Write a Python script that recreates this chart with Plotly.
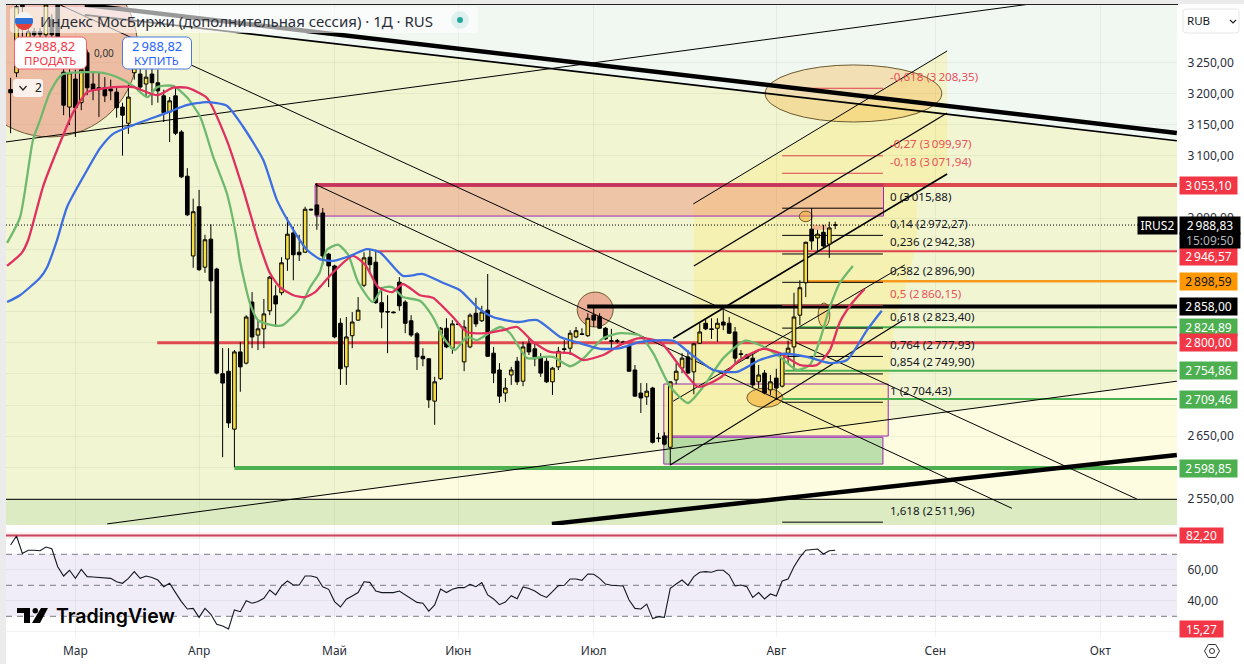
import math
import plotly.graph_objects as go

# Values below; READ_OFF lifts them onto the calibrated price scale.
READ_OFF = 2.2

# ---------- price data (bar index 0..140) ----------
opens = [3204,3231,3345,3284,3297,3297,3292,3316,3345,3232,
 3176,3221,3183,3263,3213,3207,3207,3205,3200,3176,
 3150,3231,3229,3213,3229,3215,3194,3168,3194,3136,
 3065,2937,3016,2919,2964,2916,2748,2752,2659,2783,
 2765,2863,2810,2820,2849,2873,2878,2932,2974,2943,
 2943,3012,3019,3006,2940,2921,2829,2759,2809,2834,
 2890,2935,2927,2862,2848,2847,2895,2863,2833,2812,
 2776,2772,2704,2740,2821,2789,2828,2767,2791,2845,
 2833,2850,2781,2754,2717,2746,2768,2736,2796,2788,
 2773,2768,2735,2759,2788,2789,2807,2812,2809,2842,
 2840,2821,2801,2801,2799,2793,2754,2717,2711,2725,
 2645,2648,2630,2738,2757,2775,2751,2797,2829,2820,
 2821,2831,2829,2815,2780,2778,2773,2735,2749,2722,
 2741,2728,2781,2791,2842,2894,2980,2966,2975,2956,2986.6]
highs = [3223,3340,3350,3303,3303,3303,3345,3325,3350,3240,
 3239,3236,3252,3268,3231,3232,3224,3220,3208,3183,
 3212,3252,3239,3236,3239,3236,3204,3192,3207,3139,
 3078,3029,3043,2971,2988,2918,2789,2789,2786,2799,
 2842,2879,2834,2868,2905,2890,2935,2999,2984,2971,
 3016,3013,3054,3014,2942,2923,2837,2839,2847,2871,
 2943,2947,2947,2887,2874,2848,2903,2866,2842,2815,
 2789,2773,2743,2823,2837,2834,2829,2834,2845,2870,
 2857,2908,2791,2765,2741,2759,2775,2799,2805,2797,
 2781,2773,2759,2791,2802,2818,2823,2821,2845,2855,
 2845,2823,2820,2804,2801,2794,2762,2733,2733,2727,
 2653,2654,2736,2765,2781,2786,2797,2829,2837,2837,
 2837,2850,2839,2823,2786,2780,2781,2762,2754,2746,
 2756,2781,2801,2878,2898,2960,3014,2979,2987,2992,2992]
lows = [3134,3224,3276,3276,3287,3287,3285,3285,3280,3163,
 3147,3128,3171,3195,3187,3160,3184,3187,3159,3098,
 3133,3220,3204,3192,3179,3183,3152,3120,3131,3062,
 3001,2918,2913,2910,2845,2747,2614,2661,2598,2719,
 2763,2789,2786,2789,2842,2823,2874,2913,2898,2929,
 2942,3010,2979,2923,2887,2805,2730,2730,2789,2833,
 2887,2908,2860,2821,2781,2845,2849,2813,2807,2754,
 2760,2693,2666,2738,2789,2780,2826,2752,2789,2823,
 2831,2775,2733,2701,2703,2730,2730,2728,2778,2760,
 2743,2733,2714,2754,2780,2778,2805,2810,2807,2823,
 2820,2802,2786,2797,2797,2751,2711,2685,2698,2636,
 2638,2633,2601,2731,2749,2748,2715,2796,2818,2804,
 2799,2818,2812,2765,2773,2772,2725,2725,2715,2714,
 2706,2726,2765,2754,2826,2871,2947,2943,2950,2934,2980]
closes = [3199,3337,3337,3297,3292,3293,3340,3292,3289,3179,
 3231,3175,3236,3207,3204,3204,3194,3202,3175,3163,
 3192,3240,3208,3224,3215,3202,3167,3186,3134,3064,
 3003,3008,2915,2963,2897,2749,2733,2669,2783,2759,
 2839,2807,2820,2844,2903,2860,2926,2972,2939,2939,
 3012,3011,3003,2937,2921,2807,2756,2807,2831,2850,
 2934,2923,2862,2847,2847,2846,2857,2829,2810,2775,
 2772,2706,2735,2821,2791,2828,2827,2823,2842,2828,
 2847,2776,2749,2712,2725,2754,2735,2791,2783,2772,
 2749,2735,2757,2784,2787,2813,2817,2811,2837,2834,
 2821,2804,2800,2800,2798,2752,2712,2709,2720,2638,
 2644,2635,2735,2752,2773,2749,2796,2815,2820,2819,
 2829,2826,2813,2773,2779,2773,2730,2746,2717,2735,
 2725,2780,2789,2839,2886,2959,2961,2972,2953,2982,2986.63]
bar_index = list(range(len(opens)))

# ---------- moving averages ----------
green_idx = [-0.6,1.6,3.8,5,6.7,8.7,13,15.7,18.1,20.8,23.2,24.9,27.6,29.9,32.2,34.4,36.7,38.4,38.9,40.6,42,43.5,45.2,46.2,47.8,49.1,50.8,52.5,53.7,55.6,57.3,59,61.5,63.2,64.8,66.6,69.5,71.7,73.4,75.4,77.5,79.2,83.1,84.8,87.7,90.4,92.1,95,97.2,100.6,103.5,106.9,109.1,112,115,117.6,121,124.7,127.2,130.6,133.5,135.7,137.4,139.1,140.8,143]
green_val = [2958,2999,3123,3155,3200,3228,3232,3231,3224,3210,3192,3208,3210,3192,3160,3096,3038,2963,2931,2862,2834,2828,2825,2826,2839,2853,2886,2911,2947,2955,2939,2895,2863,2886,2887,2871,2865,2839,2807,2786,2807,2802,2823,2813,2773,2775,2775,2760,2772,2805,2813,2809,2781,2727,2701,2727,2773,2801,2794,2775,2754,2762,2802,2855,2894,2921]
red_idx = [-0.6,1.9,3,5.5,7.9,10.6,13,15.2,17.4,20.8,24.9,27.6,29.9,33.3,36.7,39.5,42,44,45.7,48,50,51.7,52.5,54.7,58.1,60.2,62.4,64.8,66.6,69.5,71.7,75.1,77.5,80.9,83.6,86,88.7,91.6,95,97.2,100.6,103.5,106.9,110.3,113.7,116.7,120.4,123.8,127.7,130.6,134,136.9,139.1,140.8,143,145]
red_val = [2921,2942,2963,3048,3107,3167,3200,3205,3208,3208,3195,3207,3207,3191,3123,3043,2963,2910,2887,2874,2871,2879,2887,2910,2937,2923,2887,2879,2892,2874,2870,2839,2815,2813,2818,2823,2799,2783,2781,2770,2778,2794,2805,2799,2759,2727,2741,2770,2788,2781,2762,2762,2786,2831,2863,2884]
blue_idx = [-0.6,1.6,5,6.2,7.9,9.6,13,15.2,17.4,20.8,26.6,29.9,33.3,36.7,39.5,42.9,45.2,48,50.3,52.5,54.7,57.6,60.5,62.7,66.6,70,73.4,76.3,79.2,81.9,86,89.4,93.3,96.7,100.1,103.5,106.9,112.5,115.3,119.3,123.3,127.2,131.1,135.2,139.1,142,145.4,147.9]
blue_val = [2863,2874,2902,2919,2963,3016,3075,3110,3133,3147,3167,3179,3184,3178,3144,3091,3027,2979,2947,2932,2929,2937,2948,2943,2905,2908,2894,2882,2855,2839,2831,2834,2807,2797,2788,2789,2799,2801,2781,2754,2751,2770,2780,2775,2765,2770,2818,2849]

# ---------- RSI, one value per bar ----------
rsi_val = [76,81.8,70.6,72.6,72.6,72.3,74.7,73.6,62,56,
 59.7,54.5,60.3,55.6,55.4,55.1,54.5,54.5,52.3,51.3,
 54.5,58.8,54.5,56,55.1,53.4,49.1,51.3,45.3,39.5,
 34.7,35.1,29.3,35.1,31.3,24.8,23.8,21.8,34.1,33,
 40.1,38.4,39.5,41.6,47,43.8,49.6,52.8,50.2,50.2,
 56,56,55.1,49.1,47.4,39.5,36,41,43.1,45.3,
 52.3,51.9,46.3,45.3,45.3,45.3,46.3,43.8,41.6,39,
 38.4,33.4,37.3,47.6,45.3,47.4,48.5,48.5,50.6,49.1,
 51.7,43.8,41.2,37.5,39.2,43.3,41.4,48.9,48,46.3,
 43.8,42.2,45.9,49.8,50,54.1,54.1,53.2,57.3,57.1,
 54.5,50.8,50,50,49.6,40.5,35.1,34.7,37.9,28.5,
 29.8,29.3,48,50.8,53.4,50,55.6,58.4,58.8,58.4,
 59.7,59.7,56.6,49.6,50.2,49.1,42.2,45.3,41.2,44.4,
 43.1,52.8,54.1,62,68,72.6,72.8,73.4,70.2,72.3,72.6]

# ---------- axes ticks (labels hidden by level badges are left empty) ----------
month_ticks = [11,32,55,76,99,130,157,185]
month_labels = ["Мар","Апр","Май","Июн","Июл","Авг","Сен","Окт"]
price_ticks = [3250,3200,3150,3100,3050,3000,2950,2900,2850,2800,2750,2700,2650,2600,2550]
price_labels = ["3\u2009250,00","3\u2009200,00","3\u2009150,00","3\u2009100,00","","3\u2009000,00","","","","","","","2\u2009650,00","","2\u2009550,00"]
rsi_ticks = [80,60,40,20]
rsi_labels = ["","60,00","40,00",""]

# ---------- horizontal levels ----------
level_price = [3053.10,2946.57,2898.59,2858.00,2824.89,2800.00,2754.86,2709.46,2598.85]
level_start = [51.7,62.2,135.2,97.9,134,24.9,131.5,131,38]
level_color = ["#dc4a50","#e0404e","#f59a1e","#000000","#4caf50","#e04850","#4caf50","#4caf50","#4caf50"]
level_width = [4,2,2.5,4,2,3,2,2,4]
level_badge = ["3\u2009053,10","2\u2009946,57","2\u2009898,59","2\u2009858,00","2\u2009824,89","2\u2009800,00","2\u2009754,86","2\u2009709,46","2\u2009598,85"]
badge_bg = ["#f23645","#f23645","#ff9800","#000000","#4caf50","#f23645","#4caf50","#4caf50","#4caf50"]
badge_fg = ["#ffffff","#ffffff","#131722","#ffffff","#ffffff","#ffffff","#ffffff","#ffffff","#ffffff"]
badge_shift = [0,-5,0,0,0,0,0,0,0]

# ---------- fibonacci ----------
fib_price = [3208.35,3099.97,3071.94,3015.88,2972.27,2942.38,2896.90,2860.15,2823.40,2777.93,2749.90,2704.43,2511.96]
fib_text = ["-0,618 (3\u2009208,35)","-0,27 (3\u2009099,97)","-0,18 (3\u2009071,94)","0 (3\u2009015,88)","0,14 (2\u2009972,27)","0,236 (2\u2009942,38)","0,382 (2\u2009896,90)","0,5 (2\u2009860,15)","0,618 (2\u2009823,40)","0,764 (2\u2009777,93)","0,854 (2\u2009749,90)","1 (2\u2009704,43)","1,618 (2\u2009511,96)"]
fib_color = ["#e8505a","#e8505a","#e8505a","#131722","#131722","#131722","#131722","#e8505a","#131722","#131722","#131722","#131722","#131722"]
fib_from, fib_to, fib_label_at = 131, 148.1, 148.95

# ---------- trend lines: x0, p0, x1, p1, width ----------
trend_x0 = [12.6,12.6,-0.8,8.4,51.7,115.9,116,112.5,112.5,112,16.4,91.9]
trend_p0 = [3340,3324,3120,3340,3052,3020.5,2921,2805,2704,2601.5,2507,2507]
trend_x1 = [198,198,173.6,191.2,170,159,159,159,151.8,151.5,198,198]
trend_p1 = [3134.5,3122,3342,2547,2532,3266,3166.6,3068.6,2922.6,2834,2736,2617.5]
trend_w = [4.5,1.6,1,1,1,1,1.2,1.6,1,1.2,1,4.5]

# ---------- ellipses: x0, x1, p0, p1, fill ----------
ell_x0 = [-8.25,96.2,133.9,128.1,125,137.1]
ell_x1 = [21.6,102.3,136.1,158.1,131.1,139.1]
ell_p0 = [3128,2823,2992,3152,2694,2823]
ell_p1 = [3411,2879,3009,3243.6,2725,2861.6]
ell_fill = ["rgba(226,92,80,0.36)","rgba(226,92,80,0.45)","rgba(245,166,35,0.45)","rgba(245,166,35,0.30)","rgba(245,166,35,0.55)","rgba(245,166,35,0.30)"]

# ---------- pixel helpers for page furniture only ----------
W, H = 1244, 664
def px(x): return x / W
def py(y): return 1 - y / H

shapes, ann = [], []
R = READ_OFF

def poly(xs, ys, fill, layer="below", line=None):
    d = "M" + " L".join(f"{x},{y + R}" for x, y in zip(xs, ys)) + " Z"
    shapes.append(dict(type="path", xref="x", yref="y", path=d, fillcolor=fill,
                       line=dict(width=0) if line is None else line, layer=layer))

def rect(x0, x1, p0, p1, fill, border=None, layer="between", xr="x", yr="y"):
    shapes.append(dict(type="rect", xref=xr, yref=yr, x0=x0, x1=x1, y0=p0, y1=p1, fillcolor=fill,
                       line=dict(color=border, width=1) if border else dict(width=0), layer=layer))

def seg(x0, p0, x1, p1, color, width, dash=None, layer="between", xr="x", yr="y"):
    shapes.append(dict(type="line", xref=xr, yref=yr, x0=x0, y0=p0, x1=x1, y1=p1,
                       line=dict(color=color, width=width, dash=dash or "solid"), layer=layer))

X_L, X_R = -0.781, 198.03
Y_MIN, Y_MAX = 2507.4, 3342.0

# background zones
rect(X_L, X_R, Y_MIN, Y_MAX, "#f2f5d2", layer="below")
poly([X_L, 12.6, X_R, X_R, X_L], [3340, 3324, 3122, 3340, 3340], "#f1f8f2")
poly([48.1, X_R, X_R], [2547, 2736, 2547], "#fdfbe0")
rect(X_L, X_R, Y_MIN, 2548.6, "#dcebc1", layer="below")
poly([116,159,159,153.9,153.9,150,149,116], [3020,3266,3069,3040,2960,2820,2731,2731], "rgba(255,232,90,0.26)")

# zones with borders
rect(51.7, 148.2, 3001+R, 3053.1, "rgba(236,130,110,0.42)", "#9c27b0")
rect(110.9, 149, 2648+R, 2731.5+R, "rgba(255,232,90,0.30)", "#9c27b0")
rect(110.9, 148.1, 2603+R, 2646+R, "rgba(76,175,80,0.36)", "#9c27b0")
rect(136.2, 138.6, 2979+R, 2987+R, "rgba(236,130,110,0.5)")

# ellipses
for a, b, c, d, f in zip(ell_x0, ell_x1, ell_p0, ell_p1, ell_fill):
    shapes.append(dict(type="circle", xref="x", yref="y", x0=a, x1=b, y0=c+R, y1=d+R, fillcolor=f,
                       line=dict(color="#6b5a30", width=1), layer="between"))

# levels
for p, s, c, w_ in zip(level_price, level_start, level_color, level_width):
    seg(s, p, X_R, p, c, w_)
seg(51.7, 3053.1, 148.2, 3053.1, "#c2335f", 3)
seg(X_L, 2548.6, X_R, 2548.6, "#000000", 1)
seg(X_L, 2988.83, 191.6, 2988.83, "#000000", 1, "1px,2px")

# fibonacci segments & labels
for p, t, c in zip(fib_price, fib_text, fib_color):
    seg(fib_from, p, fib_to, p, "#e0404e" if c != "#131722" else "#000000", 1)
    ann.append(dict(x=fib_label_at, y=p, xref="x", yref="y", text=t, showarrow=False, xanchor="left",
                    yanchor="middle", yshift=12, font=dict(size=11.6, color=c)))

# trend lines
for a, b, c, d, w_ in zip(trend_x0, trend_p0, trend_x1, trend_p1, trend_w):
    seg(a, b+R, c, d+R, "#000000", w_)

# RSI furniture
rect(X_L, X_R, 30, 70, "rgba(126,87,194,0.11)", layer="below", xr="x2", yr="y2")
rect(X_L, X_R, 80.5, 84, "rgba(242,54,69,0.10)", layer="below", xr="x2", yr="y2")
for v in (70, 50, 30):
    seg(X_L, v, X_R, v, "#787b86", 1, "6px,5px", xr="x2", yr="y2")
seg(X_L, 82.2, X_R, 82.2, "#c8455f", 2, xr="x2", yr="y2")

# ---------- page furniture in paper coords ----------
def ppath(d, fill=None, line=None, width=1):
    shapes.append(dict(type="path", xref="paper", yref="paper", path=d, fillcolor=fill or "rgba(0,0,0,0)",
                       line=dict(color=line or "rgba(0,0,0,0)", width=width), layer="above"))

def prect(x0, x1, y0, y1, fill, line=None, r=0, width=1):
    if r == 0:
        d = f"M{px(x0)},{py(y0)} L{px(x1)},{py(y0)} L{px(x1)},{py(y1)} L{px(x0)},{py(y1)} Z"
    else:
        pts = []
        for cx, cy, a0 in [(x1-r, y0+r, -90), (x1-r, y1-r, 0), (x0+r, y1-r, 90), (x0+r, y0+r, 180)]:
            for k in range(5):
                a = math.radians(a0 + k * 22.5)
                pts.append((cx + r*math.cos(a), cy + r*math.sin(a)))
        d = "M" + " L".join(f"{px(a)},{py(b)}" for a, b in pts) + " Z"
    ppath(d, fill, line, width)

def txt(x, y, s, size=12, color="#131722", anchor="left", family=None, weight=None):
    f = dict(size=size, color=color)
    if family: f["family"] = family
    if weight: f["weight"] = weight
    ann.append(dict(x=px(x), y=py(y), xref="paper", yref="paper", text=s, showarrow=False,
                    xanchor=anchor, yanchor="middle", font=f))

# strips
prect(0, 6, 0, 664, "#ebebeb")
prect(0, 1244, 0, 4, "#ebebeb")
prect(6, 1178, 4, 5, "#222222")

# title
prect(10, 478, 7, 33, "rgba(255,255,255,0.6)", r=4)
txt(38, 21, "Индекс МосБиржи (дополнительная сессия) · 1Д · RUS", 15, "#2a2e39")
def flag_band(cy_top, cy_bot, color):
    cx, cy, r = 24, 21, 9
    pts = []
    for k in range(41):
        a = math.radians(k * 9)
        x, y = cx + r*math.cos(a), cy + r*math.sin(a)
        pts.append((x, min(max(y, cy_top), cy_bot)))
    d = "M" + " L".join(f"{px(a)},{py(b)}" for a, b in pts) + " Z"
    ppath(d, color)
flag_band(12, 18, "#f4f4f4")
flag_band(18, 24, "#2f6fd6")
flag_band(24, 30, "#e2403c")
# market status dot
shapes.append(dict(type="circle", xref="paper", yref="paper", x0=px(451), x1=px(469), y0=py(29), y1=py(11),
                   fillcolor="rgba(38,166,154,0.12)", line=dict(width=0), layer="above"))
shapes.append(dict(type="circle", xref="paper", yref="paper", x0=px(457), x1=px(463), y0=py(23), y1=py(17),
                   fillcolor="#26a69a", line=dict(width=0), layer="above"))

# buy / sell
prect(14.5, 86.5, 37, 69, "#ffffff", "#f0616d", r=5)
txt(50.5, 46, "2\u2009988,82", 13, "#f23645", "center")
txt(50.5, 60, "ПРОДАТЬ", 11.5, "#f23645", "center")
prect(122.5, 191.5, 37, 69, "#ffffff", "#4b78e0", r=5)
txt(157, 46, "2\u2009988,82", 13, "#2962ff", "center")
txt(157, 60, "КУПИТЬ", 11.5, "#2962ff", "center")
txt(104, 53, "0,00", 10, "#333333", "center")
prect(13, 43, 79, 97, "rgba(255,255,255,0.8)", r=3)
ppath(f"M{px(19.5)},{py(86)} L{px(23)},{py(90)} L{px(26.5)},{py(86)}", None, "#222222", 1.2)
txt(33, 88, "2", 12, "#222222")

# RUB box
prect(1183, 1239, 9, 33, "#ffffff", "#e6e6e6", r=3)
txt(1185, 21, "RUB", 11.5, "#131722")
ppath(f"M{px(1230)},{py(20)} L{px(1233)},{py(23)} L{px(1236)},{py(20)}", None, "#222222", 1.2)

# TradingView watermark
ppath(f"M{px(17)},{py(608)} L{px(30)},{py(608)} L{px(30)},{py(623)} L{px(24)},{py(623)} L{px(24)},{py(613)} L{px(17)},{py(613)} Z", "#000000")
ppath(f"M{px(41)},{py(608)} L{px(48)},{py(608)} L{px(40)},{py(623)} L{px(32)},{py(623)} Z", "#000000")
shapes.append(dict(type="circle", xref="paper", yref="paper", x0=px(32.5), x1=px(38), y0=py(613.5), y1=py(608),
                   fillcolor="#000000", line=dict(width=0), layer="above"))
txt(54, 616, "TradingView", 19.5, "#000000", family="Inter", weight=600)

# settings icon
hex_pts = [(1212+7.5*math.cos(math.radians(a)), 651+7.5*math.sin(math.radians(a))) for a in range(0, 360, 60)]
ppath("M" + " L".join(f"{px(a)},{py(b)}" for a, b in hex_pts) + " Z", None, "#333333", 1)
shapes.append(dict(type="circle", xref="paper", yref="paper", x0=px(1209.5), x1=px(1214.5), y0=py(653.5), y1=py(648.5),
                   line=dict(color="#333333", width=1), layer="above"))

# ---------- price badges ----------
def badge(y, s, bg, fg, yref="y", w_=57, h_=17, yshift=0):
    ann.append(dict(x=px(1179), y=y, xref="paper", yref=yref, text=s, showarrow=False, xanchor="left",
                    yanchor="middle", width=w_, height=h_, bgcolor=bg, borderpad=0, align="center",
                    yshift=yshift, font=dict(size=12, color=fg)))

for p, s, b, f, sh in zip(level_price, level_badge, badge_bg, badge_fg, badge_shift):
    badge(p, s, b, f, yshift=sh)
badge(2988.83, "2\u2009988,83", "#000000", "#ffffff", w_=60, h_=17)
badge(2988.83, "15:09:50", "#000000", "#b2b5be", w_=60, h_=15, yshift=-15)
ann.append(dict(x=px(1178), y=2988.83, xref="paper", yref="y", text="IRUS2", showarrow=False, xanchor="right",
                yanchor="middle", width=39, height=17, bgcolor="#000000", borderpad=0, align="center",
                font=dict(size=12, color="#ffffff")))
badge(82.20, "82,20", "#f23645", "#ffffff", yref="y2", w_=43, h_=15)
badge(py(628.5), "15,27", "#f23645", "#ffffff", yref="paper", w_=43, h_=16)

# ---------- figure ----------
def lift(vals):
    return [v + READ_OFF for v in vals]

fig = go.Figure()
fig.add_trace(go.Candlestick(x=bar_index, open=lift(opens), high=lift(highs), low=lift(lows), close=lift(closes),
    increasing=dict(fillcolor="#f6df45", line=dict(color="#000000", width=1)),
    decreasing=dict(fillcolor="#000000", line=dict(color="#000000", width=1)),
    whiskerwidth=0, showlegend=False, hoverinfo="skip", xaxis="x", yaxis="y"))
for xs, ys, c in [(green_idx, green_val, "#6fb96f"), (red_idx, red_val, "#e03060"), (blue_idx, blue_val, "#3d6fe0")]:
    fig.add_trace(go.Scatter(x=xs, y=lift(ys), mode="lines", line=dict(color=c, width=2.3, shape="spline", smoothing=0.6),
                             showlegend=False, hoverinfo="skip", xaxis="x", yaxis="y"))
fig.add_trace(go.Scatter(x=bar_index, y=rsi_val, mode="lines", line=dict(color="#131722", width=1.1),
                         showlegend=False, hoverinfo="skip", xaxis="x2", yaxis="y2"))

GRID = "rgba(60,80,60,0.07)"
fig.update_layout(
    width=W, height=H, autosize=False, margin=dict(l=0, r=0, t=0, b=0, autoexpand=False),
    paper_bgcolor="#ffffff", plot_bgcolor="rgba(0,0,0,0)", boxgap=0.12,
    font=dict(family="Noto Sans", size=12, color="#131722"),
    shapes=shapes, annotations=ann,
    xaxis=dict(domain=[6/W, 1177/W], range=[X_L, X_R], anchor="y", tickvals=month_ticks, showticklabels=False, automargin=False,
               showgrid=True, gridcolor=GRID, zeroline=False, ticks="", rangeslider=dict(visible=False)),
    yaxis=dict(domain=[1-525/H, 1-5/H], range=[Y_MIN, Y_MAX], side="right", anchor="x", tickvals=price_ticks, automargin=False,
               ticktext=price_labels, showgrid=True, gridcolor=GRID, zeroline=False, ticks="outside", ticklen=7,
               tickcolor="rgba(0,0,0,0)", tickfont=dict(size=12, color="#2a2e39")),
    xaxis2=dict(domain=[6/W, 1177/W], range=[X_L, X_R], anchor="y2", tickvals=month_ticks, ticktext=month_labels, automargin=False,
                showgrid=True, gridcolor=GRID, zeroline=False, ticks="outside", ticklen=3, tickcolor="rgba(0,0,0,0)",
                tickfont=dict(size=12, color="#2a2e39")),
    yaxis2=dict(domain=[1-637/H, 1-526/H], range=[16.65, 88.26], side="right", anchor="x2", tickvals=rsi_ticks, automargin=False,
                ticktext=rsi_labels, showgrid=True, gridcolor=GRID, zeroline=False, ticks="outside", ticklen=7,
                tickcolor="rgba(0,0,0,0)", tickfont=dict(size=12, color="#2a2e39")),
)
fig.write_html("out.html", config=dict(displayModeBar=False),
               post_script="document.body.style.margin='0';")
